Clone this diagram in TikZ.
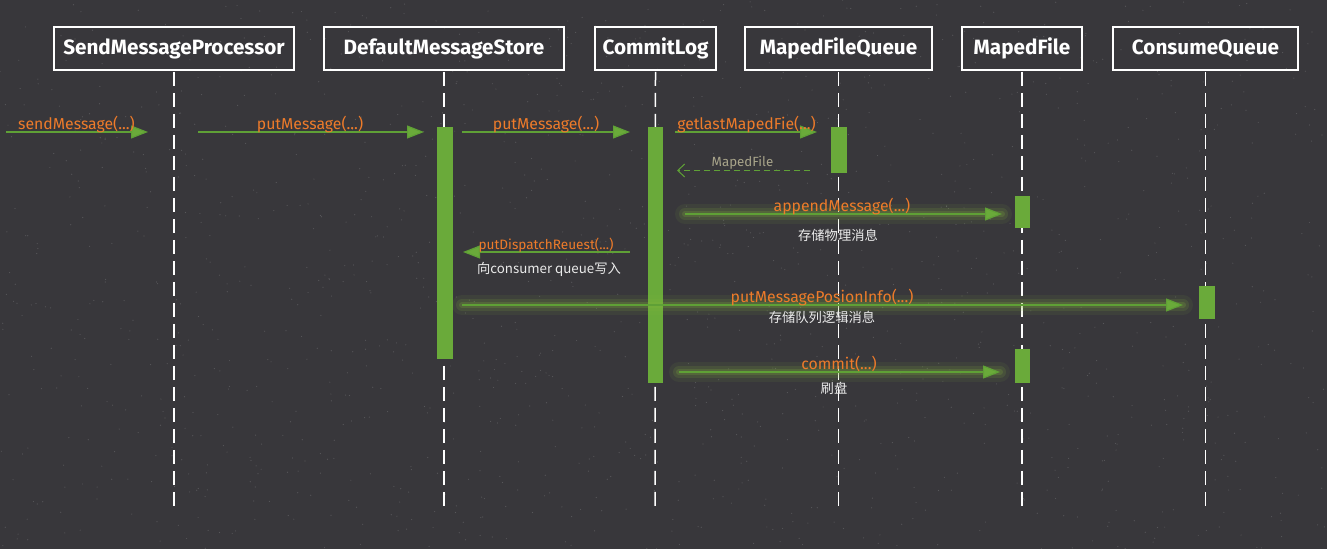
\documentclass[tikz,border=0pt]{standalone}
\usepackage{fontspec}
\setmainfont{Fira Sans}
\newfontfamily\cjk{Noto Sans CJK SC}
\usetikzlibrary{arrows.meta}
\definecolor{board}{HTML}{38373B}
\definecolor{actfill}{HTML}{6AAA3A}
\definecolor{msg}{HTML}{5FA036}
\definecolor{glowc}{HTML}{86B83C}
\definecolor{lbl}{HTML}{EE7B2A}
\definecolor{retl}{HTML}{A8A48A}
\begin{document}
\begin{tikzpicture}[x=1pt,y=-1pt,
  hdr/.style={draw=white, line width=1.5pt, minimum height=43pt, inner sep=0pt, text=white,
    font=\bfseries\fontsize{20.7}{24}\selectfont},
  life/.style={draw=white, line width=1.5pt, dash pattern=on 14pt off 7pt},
  actbar/.style={fill=actfill, draw=none, inner sep=0pt, anchor=north},
  call/.style={draw=msg, line width=1.2pt, -{Triangle[length=17pt,width=13pt,fill=actfill]}},
  ret/.style={draw=msg, line width=1pt, dash pattern=on 6pt off 4pt, -{Straight Barb[length=7pt,width=13pt,line width=1pt]}},
  glowA/.style={draw=glowc, line width=20pt, opacity=0.08, line cap=round},
  glowB/.style={draw=glowc, line width=12pt, opacity=0.14, line cap=round},
  glowC/.style={draw=glowc, line width=6pt, opacity=0.2, line cap=round},
  lab/.style={text=lbl, font=\fontsize{15.8}{18}\selectfont, anchor=base, inner sep=0pt},
  rlab/.style={text=retl, font=\fontsize{13.3}{15}\selectfont, anchor=base, inner sep=0pt},
  note/.style={text=white!92!black, font=\cjk\fontsize{13.3}{15}\selectfont, inner sep=0pt}
]
\useasboundingbox (0,0) rectangle (1327,549);
\fill[board] (0,0) rectangle (1327,549);
\pgfmathsetseed{7}
\foreach \i in {1,...,1400}{
  \pgfmathsetmacro{\px}{rnd*1327}
  \pgfmathsetmacro{\py}{rnd*549}
  \fill[white,opacity=0.16] (\px,\py) circle (0.6pt);
}

% headers
\node[hdr, minimum width=240pt] (h1) at (174,48.5) {SendMessageProcessor};
\node[hdr, minimum width=240pt] (h2) at (444,48.5) {DefaultMessageStore};
\node[hdr, minimum width=121pt] (h3) at (655.5,48.5) {CommitLog};
\node[hdr, minimum width=187pt] (h4) at (838.5,48.5) {MapedFileQueue};
\node[hdr, minimum width=120pt] (h5) at (1022,48.5) {MapedFile};
\node[hdr, minimum width=185pt] (h6) at (1205.5,48.5) {ConsumeQueue};

% lifeline ends
\coordinate (e1) at (174,509);
\coordinate (e2) at (444,509);
\coordinate (e3) at (655,509);
\coordinate (e4) at (838.5,509);
\coordinate (e5) at (1022,509);
\coordinate (e6) at (1205.5,509);
\foreach \k in {1,...,6}{ \draw[life] ([yshift=-1pt]h\k.south) -- (e\k); }

% activation bars
\node[actbar, minimum width=16pt, minimum height=232pt] (a2) at (445,127) {};
\node[actbar, minimum width=15pt, minimum height=256pt] (a3) at (655.5,127) {};
\node[actbar, minimum width=16pt, minimum height=46pt] (a4) at (838.7,127) {};
\node[actbar, minimum width=15pt, minimum height=32pt] (a5) at (1022,196) {};
\node[actbar, minimum width=15pt, minimum height=34pt] (a5b) at (1022.5,349) {};
\node[actbar, minimum width=16pt, minimum height=33pt] (a6) at (1206.5,286) {};

% message end points
\coordinate (s1) at (6,132);      \coordinate (t1) at (148,132);
\coordinate (s2) at (198,132);    \coordinate (t2) at (424,132);
\coordinate (s3) at (462,132);    \coordinate (t3) at (630,132);
\coordinate (s4) at (675,132);    \coordinate (t4) at (817,132);
\coordinate (s5) at (810,170.5);  \coordinate (t5) at (677,170.5);
\coordinate (s6) at (685,214);    \coordinate (t6) at (1002,214);
\coordinate (s7) at (630,252);    \coordinate (t7) at (463,252);
\coordinate (s8) at (462,305);    \coordinate (t8) at (1183,305);
\coordinate (s9) at (679,372);    \coordinate (t9) at (1000,372);

% glows
\foreach \a/\b in {s6/t6, s8/t8, s9/t9}{
  \draw[glowA] (\a) -- (\b);
  \draw[glowB] (\a) -- (\b);
  \draw[glowC] (\a) -- (\b);
}

% messages
\draw[call] (s1) -- (t1);
\draw[call] (s2) -- (t2);
\draw[call] (s3) -- (t3);
\draw[call] (s4) -- (t4);
\draw[ret]  (s5) -- (t5);
\draw[call] (s6) -- (t6);
\draw[call] (s7) -- (t7);
\draw[call] (s8) -- (t8);
\draw[call] (s9) -- (t9);

% labels
\node[lab] (l1) at (76.5,129) {sendMessage(...)};
\node[lab] (l2) at (310,129) {putMessage(...)};
\node[lab] (l3) at (546,129) {putMessage(...)};
\node[lab] (l4) at (746.5,129) {getlastMapedFie(...)};
\node[rlab] (l5) at (742.5,166) {MapedFile};
\node[lab] (l6) at (842,211) {appendMessage(...)};
\node[lab, font=\fontsize{13.6}{15}\selectfont] (l7) at (546,249) {putDispatchReuest(...)};
\node[lab] (l8) at (822,302) {putMessagePosionInfo(...)};
\node[lab] (l9) at (839,369) {commit(...)};

% notes
\node[note] (n6) at (838,235) {存储物理消息};
\node[note] (n7) at (549,269) {向consumer queue写入};
\node[note] (n8) at (822,317) {存储队列逻辑消息};
\node[note] (n9) at (834,388) {刷盘};
\end{tikzpicture}
\end{document}
